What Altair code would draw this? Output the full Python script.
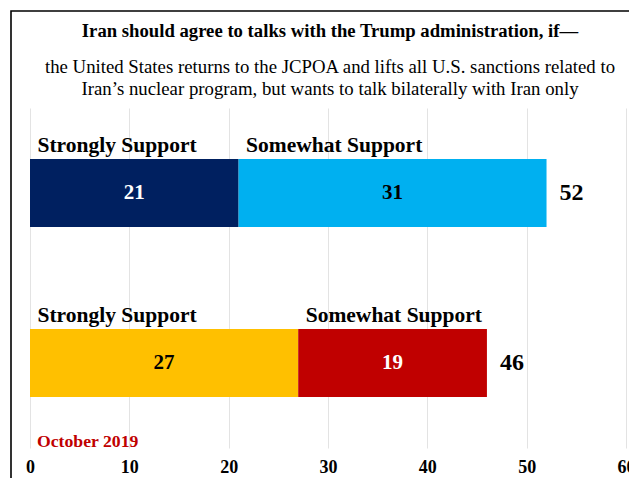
import altair as alt
import pandas as pd

# ---- data ----
rows = ["r1", "r2"]
strongly = [21, 27]
somewhat = [31, 19]
totals = [52, 46]
strong_colors = ["#002060", "#FFC000"]
somewhat_colors = ["#00B0F0", "#C00000"]
strong_text_colors = ["white", "black"]
somewhat_text_colors = ["black", "white"]
label_strong = "Strongly Support"
label_somewhat = "Somewhat Support"
tick_values = [0, 10, 20, 30, 40, 50, 60]
title_text = "Iran should agree to talks with the Trump administration, if\u2014"
subtitle_line1 = "the United States returns to the JCPOA and lifts all U.S. sanctions related to"
subtitle_line2 = "Iran\u2019s nuclear program, but wants to talk bilaterally with Iran only"
note_text = "October 2019"

FONT = "Liberation Serif"

seg_records = []
keys, colors = [], []
for i, r in enumerate(rows):
    s, w = strongly[i], somewhat[i]
    seg_records.append(dict(row=r, key=r + "-s", start=0, end=s, mid=s / 2, value=s,
                            tcolor=strong_text_colors[i], label=label_strong))
    seg_records.append(dict(row=r, key=r + "-w", start=s, end=s + w, mid=s + w / 2, value=w,
                            tcolor=somewhat_text_colors[i], label=label_somewhat))
    keys += [r + "-s", r + "-w"]
    colors += [strong_colors[i], somewhat_colors[i]]
seg = pd.DataFrame(seg_records)
tot = pd.DataFrame({"row": rows, "total": totals})

ysc = alt.Scale(domain=rows)
xsc = alt.Scale(domain=[0, 60], nice=False, zero=True)
xaxis = alt.Axis(values=tick_values, title=None, grid=True, gridColor="#e3e3e3",
                 gridWidth=1, domain=False, ticks=False, labelFlush=False,
                 labelFont=FONT, labelFontWeight="bold", labelFontSize=18,
                 labelColor="black", labelPadding=10)

base = alt.Chart(seg)

bars = base.mark_bar(size=68).encode(
    y=alt.Y("row:N", scale=ysc, axis=None),
    x=alt.X("start:Q", scale=xsc, axis=xaxis),
    x2="end:Q",
    color=alt.Color("key:N", scale=alt.Scale(domain=keys, range=colors), legend=None),
)

values = base.mark_text(font=FONT, fontWeight="bold", fontSize=21, baseline="middle").encode(
    y=alt.Y("row:N", scale=ysc, axis=None),
    x=alt.X("mid:Q", scale=xsc, axis=xaxis),
    text="value:Q",
    color=alt.Color("tcolor:N", scale=None),
)

seg_labels = base.mark_text(font=FONT, fontWeight="bold", fontSize=21.5, align="left",
                            baseline="alphabetic", dx=7.5, dy=-41, color="black").encode(
    y=alt.Y("row:N", scale=ysc, axis=None),
    x=alt.X("start:Q", scale=xsc, axis=xaxis),
    text="label:N",
)

totals_text = alt.Chart(tot).mark_text(font=FONT, fontWeight="bold", fontSize=24,
                                       align="left", baseline="middle", dx=13,
                                       color="black").encode(
    y=alt.Y("row:N", scale=ysc, axis=None),
    x=alt.X("total:Q", scale=xsc, axis=xaxis),
    text="total:Q",
)

one = pd.DataFrame({"a": [0]})

note = alt.Chart(one).mark_text(font=FONT, fontWeight="bold", fontSize=17.7, align="left",
                                baseline="middle", color="#C00000").encode(
    x=alt.value(7), y=alt.value(334), text=alt.value(note_text)
)

title_mark = alt.Chart(one).mark_text(font=FONT, fontWeight="bold", fontSize=18.7, align="center",
                                      baseline="middle", color="black").encode(
    x=alt.value(300), y=alt.value(-77), text=alt.value(title_text)
)
sub1 = alt.Chart(one).mark_text(font=FONT, fontSize=18.8, align="center",
                                baseline="middle", color="black").encode(
    x=alt.value(300), y=alt.value(-41), text=alt.value(subtitle_line1)
)
sub2 = alt.Chart(one).mark_text(font=FONT, fontSize=18.8, align="center",
                                baseline="middle", color="black").encode(
    x=alt.value(300), y=alt.value(-19), text=alt.value(subtitle_line2)
)

border = alt.Chart(one).mark_rect(filled=False, stroke="black", strokeWidth=1.6).encode(
    x=alt.value(-19), x2=alt.value(640), y=alt.value(-97), y2=alt.value(420)
)

chart = alt.layer(border, bars, values, seg_labels, totals_text, note,
                  title_mark, sub1, sub2).properties(
    width=596, height=340,
    autosize=alt.AutoSizeParams(type="none"),
    padding={"left": 22, "top": 100, "right": 3, "bottom": 30},
    background="white",
).configure_view(stroke=None)

chart.save("out.html", embed_options={"renderer": "svg", "actions": False})
